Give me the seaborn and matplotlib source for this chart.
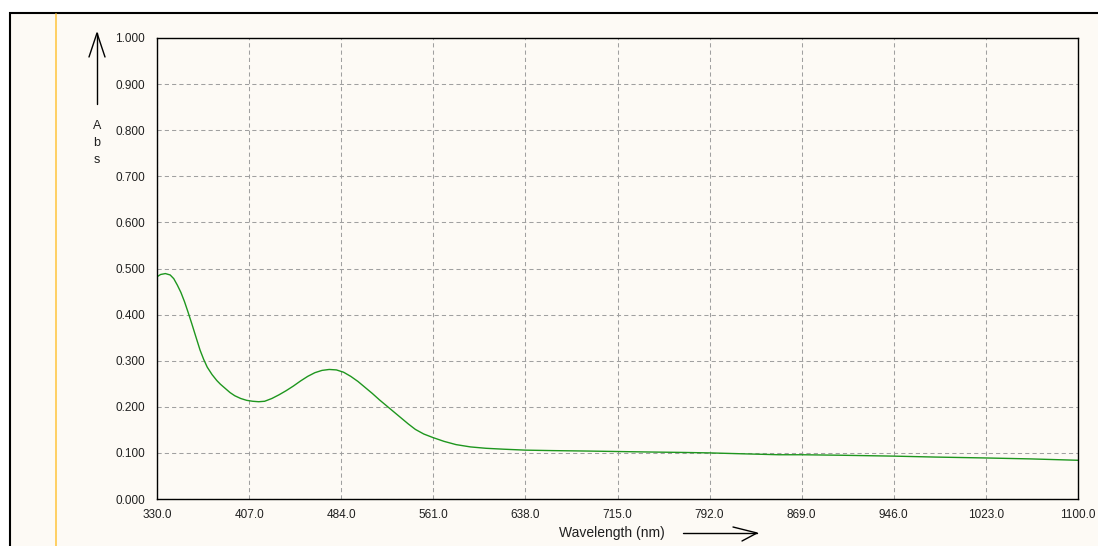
import matplotlib
matplotlib.use("Agg")
import matplotlib.pyplot as plt
import seaborn as sns
from matplotlib.lines import Line2D
from matplotlib.patches import Rectangle

# Absorbance spectrum
wavelength = [330, 333, 337, 341, 344, 347, 350, 353, 356, 359, 362, 366, 369, 372,
              376, 380, 383, 387, 391, 395, 400, 405, 410, 415, 420, 426, 432, 438,
              444, 450, 456, 462, 468, 474, 480, 486, 492, 498, 504, 510, 516, 522,
              528, 534, 540, 546, 553, 561, 570, 580, 592, 605, 620, 638, 660, 690,
              715, 740, 770, 792, 820, 850, 869, 900, 946, 980, 1023, 1060, 1100]
absorbance = [0.482, 0.487, 0.489, 0.486, 0.478, 0.464, 0.448, 0.428, 0.405, 0.381,
              0.356, 0.323, 0.303, 0.286, 0.270, 0.257, 0.249, 0.240, 0.231, 0.224,
              0.218, 0.214, 0.212, 0.211, 0.212, 0.218, 0.226, 0.235, 0.245, 0.256,
              0.266, 0.274, 0.279, 0.281, 0.280, 0.275, 0.266, 0.255, 0.242, 0.229,
              0.215, 0.202, 0.189, 0.176, 0.163, 0.151, 0.141, 0.133, 0.125, 0.118,
              0.113, 0.110, 0.108, 0.106, 0.105, 0.104, 0.103, 0.102, 0.101, 0.100,
              0.098, 0.096, 0.096, 0.095, 0.093, 0.091, 0.089, 0.087, 0.084]

x_ticks = [330.0, 407.0, 484.0, 561.0, 638.0, 715.0, 792.0, 869.0, 946.0, 1023.0, 1100.0]
y_ticks = [0.0, 0.1, 0.2, 0.3, 0.4, 0.5, 0.6, 0.7, 0.8, 0.9, 1.0]

cream = "#FDFAF5"
green = "#1E961E"
W, H = 1098, 546

sns.set_style("white")
plt.rcParams["font.family"] = ["Liberation Sans", "DejaVu Sans"]

fig = plt.figure(figsize=(W / 100, H / 100), dpi=100, facecolor="white")


def px(x, y):
    return x / W, 1 - y / H


# window frame and the yellow margin line
frame = Rectangle((9.5 / W, -0.05), 1.2, (H - 12.5) / H + 0.05, transform=fig.transFigure,
                  facecolor=cream, edgecolor="black", linewidth=1.5, zorder=-2)
fig.add_artist(frame)
fig.add_artist(Line2D([56 / W, 56 / W], [-0.05, (H - 13.5) / H], transform=fig.transFigure,
                      color="#FFC84A", linewidth=1.2, zorder=-1))

ax = fig.add_axes([157 / W, (H - 499) / H, (1078 - 157) / W, (499 - 38) / H])
ax.set_facecolor(cream)

sns.lineplot(x=wavelength, y=absorbance, ax=ax, color=green, linewidth=1.0)

ax.set_xlim(330, 1100)
ax.set_ylim(0, 1.0)
ax.set_xticks(x_ticks)
ax.set_xticklabels([f"{v:.1f}" for v in x_ticks])
ax.set_yticks(y_ticks)
ax.set_yticklabels([f"{v:.3f}" for v in y_ticks])
ax.grid(True, color="#A0A0A0", linestyle=(0, (4, 3)), linewidth=0.75)
ax.set_axisbelow(True)
for s in ax.spines.values():
    s.set_color("black")
    s.set_linewidth(1.0)
    s.set_visible(True)
ax.tick_params(axis="y", direction="inout", length=7, width=1, pad=5,
               labelsize=8.5, colors="black", labelcolor="#202020")
ax.tick_params(axis="x", direction="in", length=5, width=1, pad=7,
               labelsize=8.5, colors="black", labelcolor="#202020")
ax.set_xlabel("")
ax.set_ylabel("")

# y axis label with upward arrow
fig.text(*px(97, 120), "A\nb\ns", ha="center", va="top", fontsize=9,
         linespacing=1.55, color="#202020")
arrow_kw = dict(transform=fig.transFigure, color="black", linewidth=1.0)
fig.add_artist(Line2D(*zip(px(97, 104), px(97, 33)), **arrow_kw))
fig.add_artist(Line2D(*zip(px(89, 57), px(97, 33), px(105, 57)), **arrow_kw))

# x axis label with right arrow
fig.text(*px(612, 533), "Wavelength (nm)", ha="center", va="center", fontsize=10,
         color="#202020")
fig.add_artist(Line2D(*zip(px(683, 533), px(757, 533)), **arrow_kw))
fig.add_artist(Line2D(*zip(px(733, 527), px(757, 533), px(742, 541)), **arrow_kw))

fig.savefig("out.png", dpi=100, facecolor="white")
